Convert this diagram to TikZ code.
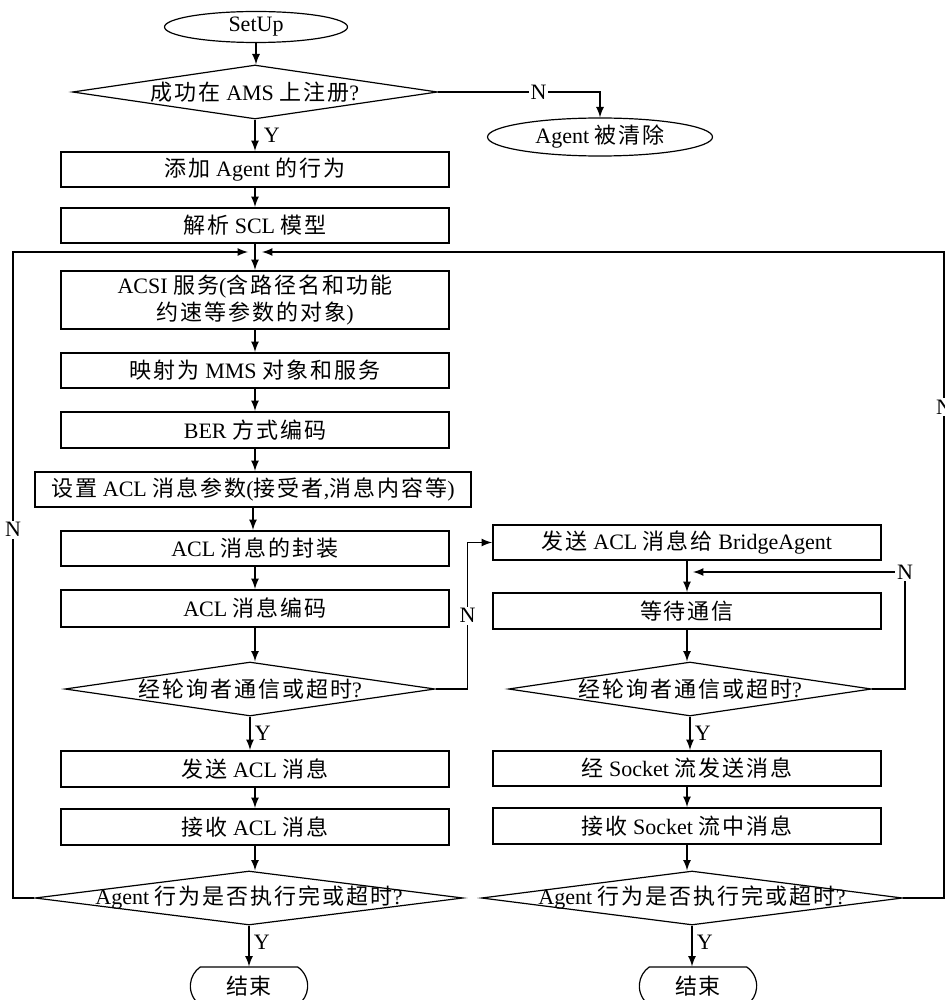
\documentclass[tikz,border=0pt]{standalone}
\usepackage{fontspec}
\setmainfont{Liberation Serif}[Scale=1.1]
\newfontfamily\cjkfont{Noto Sans CJK SC}[Scale=1.1]
\usetikzlibrary{shapes.geometric,shapes.misc}
% ideographs switch to the CJK face, everything else stays serif
\XeTeXinterchartokenstate=1
\newXeTeXintercharclass\cjkcls
\count255="4E00
\loop
  \XeTeXcharclass\count255=\cjkcls
  \ifnum\count255<"9FFF \advance\count255 by 1
\repeat
\XeTeXinterchartoks 0 \cjkcls={\cjkfont}
\XeTeXinterchartoks 4095 \cjkcls={\cjkfont}
\XeTeXinterchartoks \cjkcls 0={\normalfont}
\XeTeXinterchartoks \cjkcls 4095={\normalfont}
\XeTeXinterchartoks \cjkcls \cjkcls={\kern1pt}
\newcommand\zw[1]{\makebox[0pt]{#1}}

\begin{document}
\begin{tikzpicture}[x=.5pt,y=-.5pt,>=latex,font=\fontsize{10}{13.5}\selectfont,
  box/.style={draw,line width=1pt,minimum width=194pt,minimum height=17.5pt,inner sep=1pt},
  decide/.style={diamond,draw,line width=.6pt,inner sep=0pt,minimum width=#1,minimum height=27pt},
  oval/.style={ellipse,draw,line width=.6pt,inner sep=0pt,minimum width=#1,minimum height=15.5pt},
  finish/.style={rounded rectangle,rounded rectangle arc length=110,draw,line width=.6pt,
    minimum width=66pt,minimum height=19pt},
  flow/.style={->,line width=.8pt},
  lab/.style={inner sep=1pt}]
  \useasboundingbox (0,0) rectangle (945,1000);

  % main column
  \node[oval=91.5pt] (setup) at (256,27) {SetUp};
  \node[decide=182.5pt] (reg) at (255,92) {\zw{成功在 AMS 上注册?}};
  \node[oval=112.5pt,minimum height=19pt] (gone) at (600,137) {Agent 被清除};
  \node[box] (add) at (255,169.5) {添加 Agent 的行为};
  \node[box] (parse) at (255,225.5) {解析 SCL 模型};
  \node[box,minimum height=29pt,align=center] (acsi) at (255,300)
    {ACSI 服务(含路径名和功能\\约速等参数的对象)};
  \node[box] (map) at (255,370.5) {映射为 MMS 对象和服务};
  \node[box,minimum height=18pt] (ber) at (255,430) {BER 方式编码};
  \node[box,minimum width=218pt] (setp) at (253,489.5) {设置 ACL 消息参数(接受者,消息内容等)};
  \node[box] (pack) at (255,548.5) {ACL 消息的封装};
  \node[box,minimum height=18.5pt] (enc) at (255,608.5) {ACL 消息编码};
  \node[decide=185pt] (poll) at (250,689) {\zw{经轮询者通信或超时?}};
  \node[box,minimum height=18pt] (send) at (255,769) {发送 ACL 消息};
  \node[box,minimum height=18pt] (recv) at (255,827) {接收 ACL 消息};
  \node[decide=214pt] (doneL) at (249,898) {\zw{Agent 行为是否执行完或超时?}};
  \node[finish] (endL) at (249,986) {结束};

  % bridge column
  \node[box] (bridge) at (687,542.5) {发送 ACL 消息给 BridgeAgent};
  \node[box,minimum height=18pt] (wait) at (687,611) {等待通信};
  \node[decide=181.5pt] (pollR) at (690,689) {\zw{经轮询者通信或超时?}};
  \node[box] (sock) at (687,768.5) {经 Socket 流发送消息};
  \node[box,minimum height=18pt] (rsock) at (687,826) {接收 Socket 流中消息};
  \node[decide=210.5pt] (doneR) at (692,898) {\zw{Agent 行为是否执行完或超时?}};
  \node[finish] (endR) at (698,986) {结束};

  \coordinate (jl) at (248,252);
  \coordinate (jr) at (262,252);
  \coordinate (lx) at (13,252);
  \coordinate (rx) at (944,252);
  \coordinate (jw) at (693,572);

  \foreach \a/\b in {setup/reg,add/parse,parse/acsi,acsi/map,map/ber,ber/setp,
      setp/pack,pack/enc,enc/poll,send/recv,recv/doneL,
      bridge/wait,wait/pollR,sock/rsock,rsock/doneR}
    \draw[flow] (\a) -- (\a |- \b.north);

  \draw[flow] (reg) -- node[right=3pt,lab]{Y} (reg |- add.north);
  \draw[flow] (poll) -- node[right=1pt,lab]{Y} (poll |- send.north);
  \draw[flow] (doneL) -- node[right=1pt,lab,pos=.4]{Y} (doneL |- endL.north);
  \draw[flow] (pollR) -- node[right=1pt,lab]{Y} (pollR |- sock.north);
  \draw[flow] (doneR) -- node[right=1pt,lab,pos=.4]{Y} (doneR |- endR.north);

  \draw[flow] (reg.east) -| node[pos=.31,lab,fill=white]{N} (gone.north);
  \draw[flow] (poll.east) -- ++(32,0) |- node[pos=.25,lab,fill=white]{N} (bridge.west);
  \draw[flow] (pollR.east) -- ++(33,0) |- node[pos=.5,lab,fill=white]{N} (jw);
  \draw[flow] (doneL.west) -| node[pos=.785,lab,fill=white]{N} (lx) -- (jl);
  \draw[flow] (doneR.east) -| node[pos=.88,lab,fill=white]{N} (rx) -- (jr);
\end{tikzpicture}
\end{document}
